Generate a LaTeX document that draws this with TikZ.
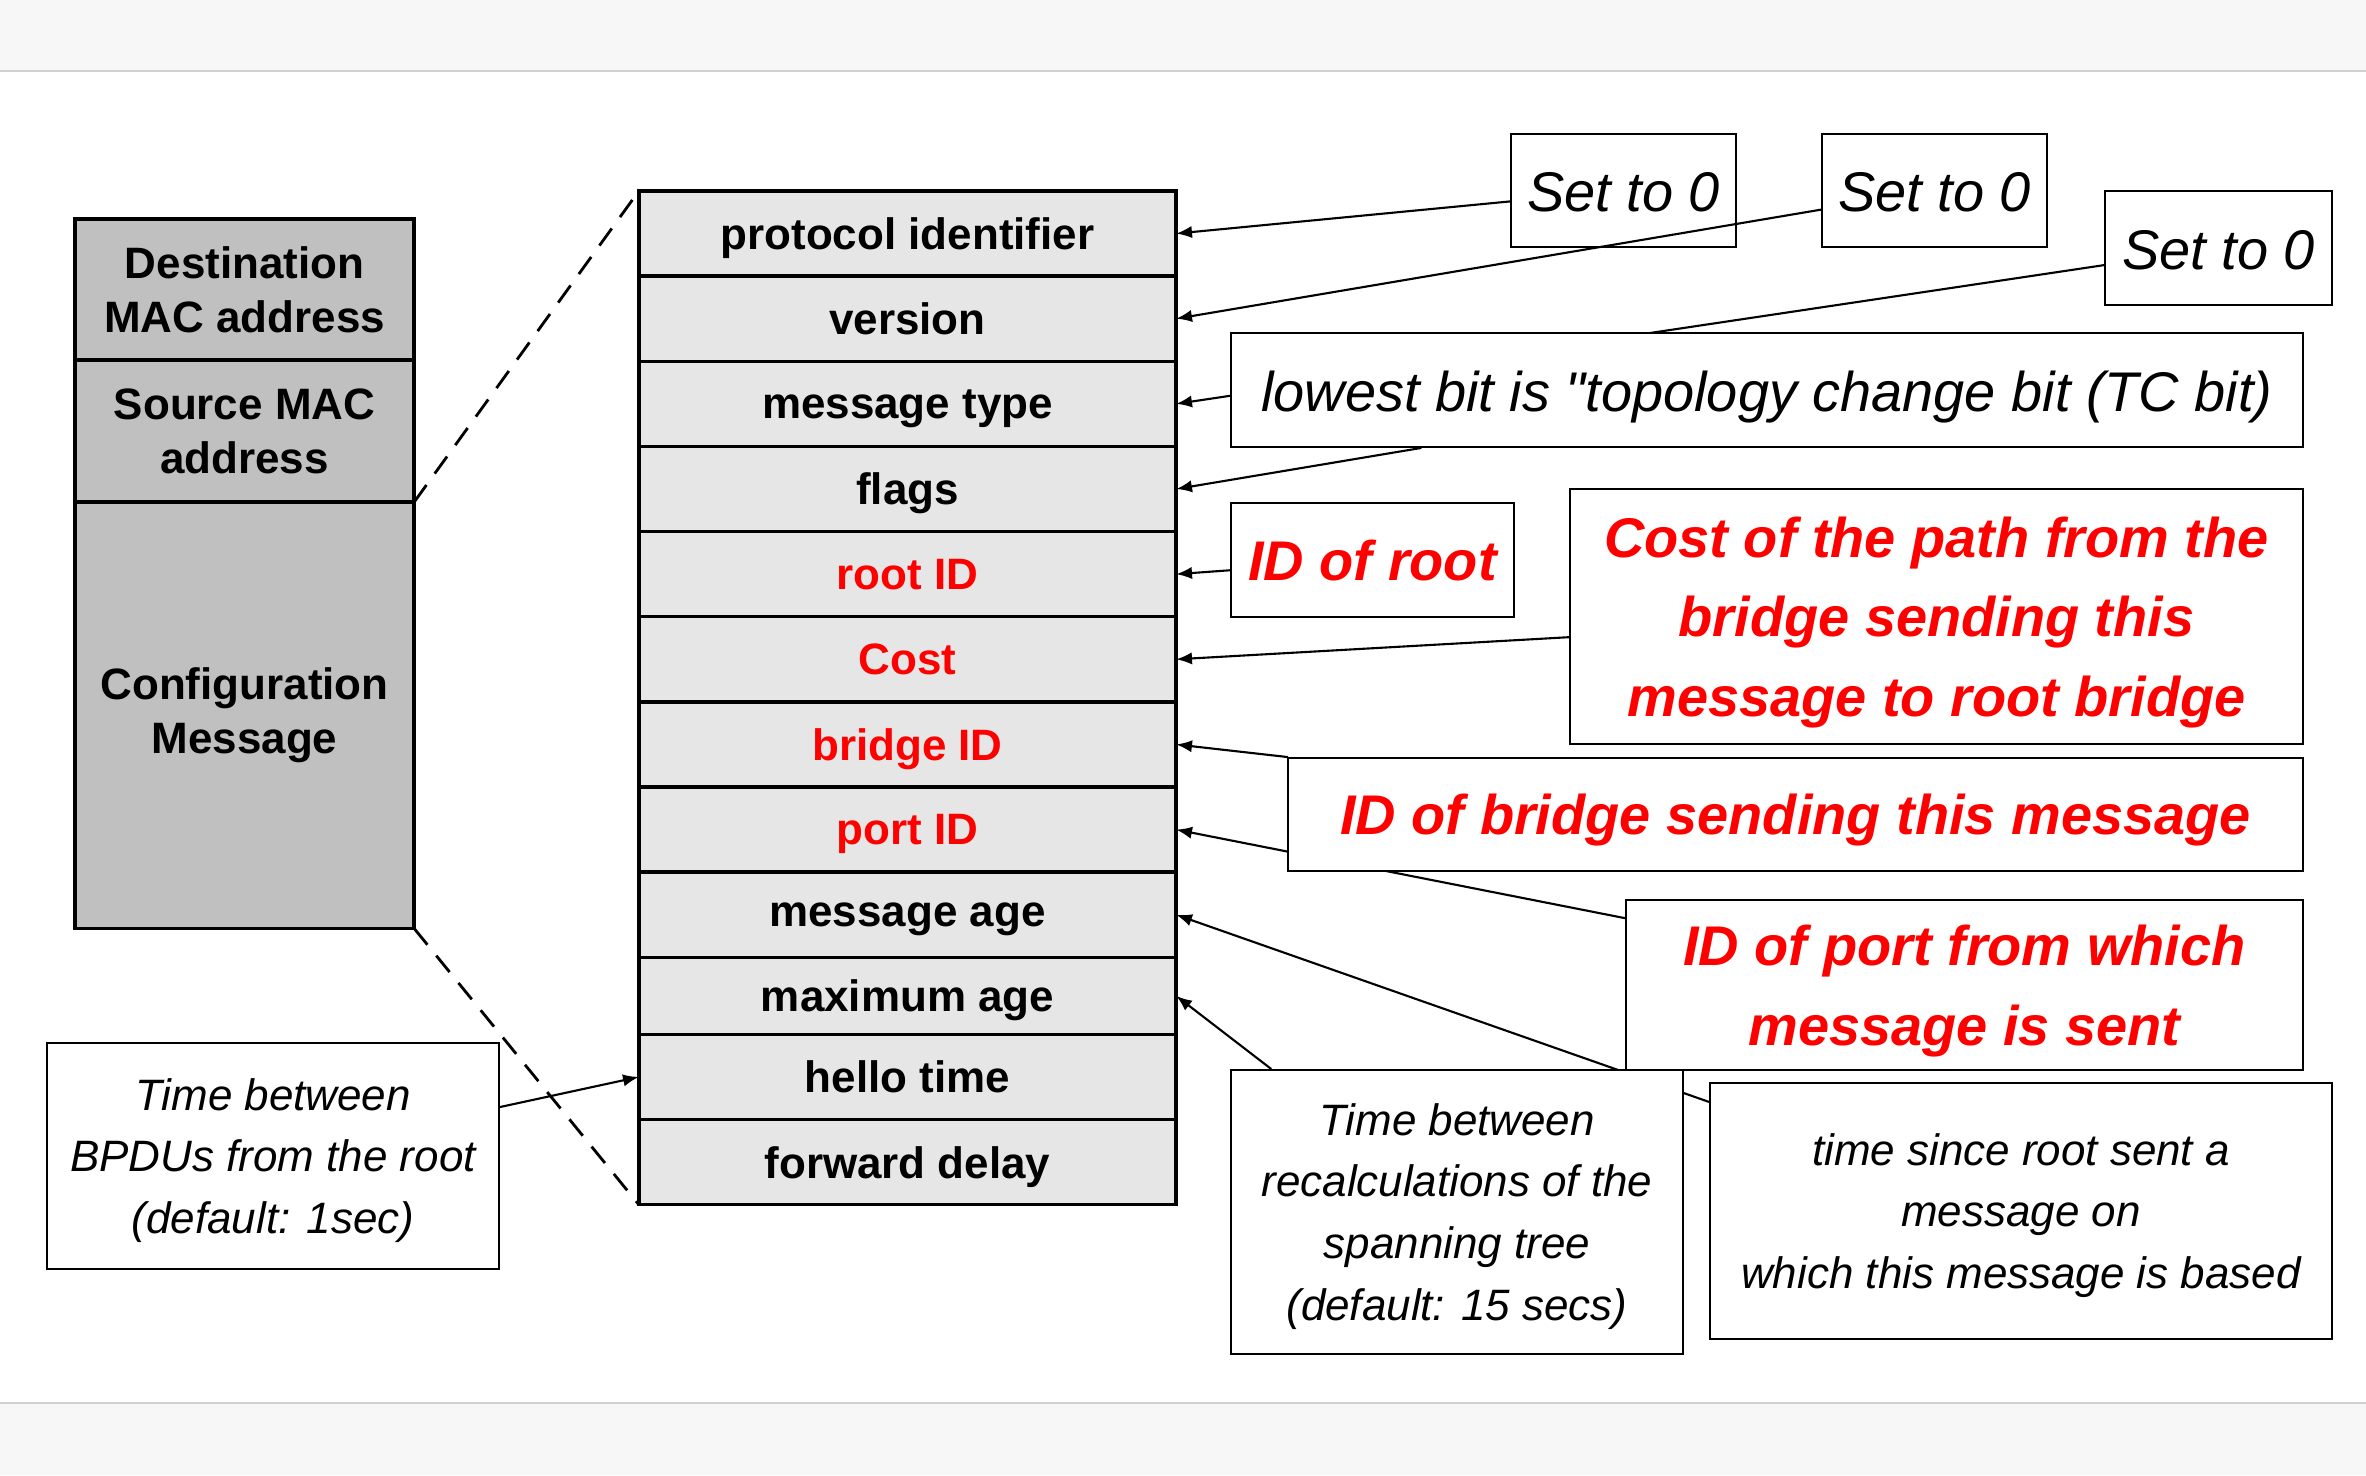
\documentclass[tikz,border=0pt]{standalone}
\usepackage{fontspec}
\setmainfont{Liberation Sans}
\usepackage{tikz}
\usetikzlibrary{positioning,arrows.meta}

\definecolor{bandgray}{HTML}{F7F7F7}
\definecolor{bandline}{HTML}{D0D0D0}
\definecolor{framegray}{HTML}{C0C0C0}
\definecolor{fieldgray}{HTML}{E6E6E6}

\begin{document}
\begin{tikzpicture}[x=0.01cm, y=-0.01cm,
    frame/.style={draw, line width=1pt, fill=framegray, minimum width=3.39cm, outer sep=0pt, inner sep=0pt, align=center, font=\fontsize{12.5}{15.4}\selectfont\bfseries},
    field/.style={draw, line width=1pt, fill=fieldgray, minimum width=5.37cm, minimum height=0.851cm, outer sep=0pt, inner sep=0pt, text depth=0pt, font=\fontsize{12.5}{15}\selectfont\bfseries},
    plainnote/.style={draw, line width=0.5pt, fill=white, inner sep=0pt, text height=12.2pt, text depth=0pt, font=\fontsize{15.9}{19}\selectfont\itshape},
    rednote/.style={draw, line width=0.5pt, fill=white, inner sep=0pt, align=center, text depth=0pt, text=red, font=\fontsize{15.9}{22.6}\selectfont\bfseries\itshape},
    timenote/.style={draw, line width=0.5pt, fill=white, inner sep=0pt, align=center, text depth=0pt, font=\fontsize{12.5}{17.6}\selectfont\itshape},
    arr/.style={-{Latex[length=4.5pt,width=3.5pt]}, line width=0.6pt},
    zoomline/.style={dash pattern=on 6pt off 4pt, line width=0.8pt},
]
\useasboundingbox (0,0) rectangle (2366,1475);
\fill[bandgray] (0,0) rectangle (2366,71);
\draw[bandline, line width=0.8pt] (0,71) -- (2366,71);
\fill[bandgray] (0,1403) rectangle (2366,1475);
\draw[bandline, line width=0.8pt] (0,1403) -- (2366,1403);

% ethernet frame
\node[frame, minimum height=1.41cm] (dst) at (244.5, 289.5) {Destination\\MAC address};
\node[frame, minimum height=1.42cm, below=0pt of dst] (src) {Source MAC\\address};
\node[frame, minimum height=4.26cm, below=0pt of src] (cfg) {Configuration\\Message};

% BPDU fields
\node[field] (pid) at (907.5, 233.55) {protocol identifier};
\node[field, below=0pt of pid] (ver) {version};
\node[field, below=0pt of ver] (mtype) {message type};
\node[field, below=0pt of mtype] (flags) {flags};
\node[field, below=0pt of flags, text=red] (rootid) {root ID};
\node[field, below=0pt of rootid, text=red] (cost) {Cost};
\node[field, below=0pt of cost, text=red] (bridgeid) {bridge ID};
\node[field, below=0pt of bridgeid, text=red] (portid) {port ID};
\node[field, below=0pt of portid] (msgage) {message age};
\node[field, below=0pt of msgage, minimum height=0.77cm] (maxage) {maximum age};
\node[field, below=0pt of maxage] (hello) {hello time};
\node[field, below=0pt of hello] (fwd) {forward delay};

\draw[zoomline] (src.south east) -- (pid.north west);
\draw[zoomline] (cfg.south east) -- (fwd.south west);

% notes
\node[plainnote, minimum width=2.25cm, minimum height=1.13cm] (s1) at (1623.5, 190.5) {Set to 0};
\draw[arr] (s1) -- (pid.east);
\node[plainnote, minimum width=2.25cm, minimum height=1.13cm] (s2) at (1934.5, 190.5) {Set to 0};
\draw[arr] (s2) -- (ver.east);
\node[plainnote, minimum width=2.27cm, minimum height=1.14cm] (s3) at (2218.5, 248) {Set to 0};
\draw[arr] (s3) -- (mtype.east);
\node[plainnote, minimum width=10.72cm, minimum height=1.14cm] (lowbit) at (1767, 390) {lowest bit is \textquotedbl topology change bit (TC bit)};
\draw[arr] (lowbit) -- (flags.east);

\node[rednote, minimum width=2.83cm, minimum height=1.14cm] (idroot) at (1372.5, 560) {ID of root};
\draw[arr] (idroot) -- (rootid.east);
\node[rednote, minimum width=7.33cm, minimum height=2.55cm] (costnote) at (1936.5, 616.5) {Cost of the path from the\\bridge sending this\\message to root bridge};
\draw[arr] (costnote) -- (cost.east);
\node[rednote, minimum width=6.77cm, minimum height=1.7cm] (portnote) at (1964.5, 985) {ID of port from which\\message is sent};
\draw[arr] (portnote) -- (portid.east);
\node[rednote, minimum width=10.15cm, minimum height=1.13cm] (bridgenote) at (1795.5, 814.5) {ID of bridge sending this message};
\draw[arr] (bridgenote) -- (bridgeid.east);

\node[timenote, minimum width=6.22cm, minimum height=2.56cm] (since) at (2021, 1211) {time since root sent a\\message on\\which this message is based};
\draw[arr] (since) -- (msgage.east);
\node[timenote, minimum width=4.52cm, minimum height=2.84cm] (recalc) at (1457, 1212) {Time between\\recalculations of the\\spanning tree\\(default: 15 secs)};
\draw[arr] (recalc) -- (maxage.east);
\node[timenote, minimum width=4.52cm, minimum height=2.26cm] (hellonote) at (273, 1156) {Time between\\BPDUs from the root\\(default: 1sec)};
\draw[arr] (hellonote) -- (hello.west);
\end{tikzpicture}
\end{document}
